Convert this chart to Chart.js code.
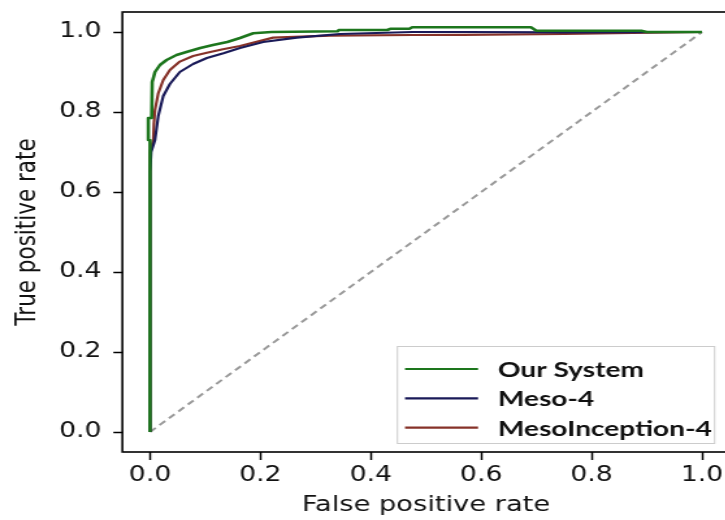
<!DOCTYPE html>
<html><head><meta charset="utf-8">
<script src="https://cdn.jsdelivr.net/npm/chart.js@4.4.0/dist/chart.umd.min.js"></script>
<style>
html,body{margin:0;padding:0;background:#fff;overflow:hidden;width:725px;height:520px;}
#wrap{position:absolute;left:0;top:0;width:570px;height:520px;transform:scaleX(1.3);transform-origin:0 0;}
</style></head><body>
<div id="wrap"><canvas id="c" width="570" height="520"></canvas></div>
<script>
// ---- data ----
const tickValues = [0, 0.2, 0.4, 0.6, 0.8, 1.0];
const tickLabels = ['0.0', '0.2', '0.4', '0.6', '0.8', '1.0'];
const seriesNames = ['Our System', 'Meso-4', 'MesoInception-4'];
const xAxisTitle = 'False positive rate';
const yAxisTitle = 'True positive rate';

const ourSystemFpr = [0, 0, -0.003, -0.003, 0.003, 0.004, 0.009, 0.018, 0.030, 0.048, 0.066, 0.091, 0.114, 0.14, 0.163, 0.187, 0.22, 0.34, 0.342, 0.43, 0.435, 0.47, 0.475, 0.69, 0.70, 0.89, 0.90, 1.0];
const ourSystemTpr = [0, 0.73, 0.73, 0.785, 0.785, 0.875, 0.90, 0.9175, 0.93, 0.9425, 0.95, 0.96, 0.9675, 0.975, 0.985, 0.997, 1.0, 1.002, 1.005, 1.005, 1.008, 1.008, 1.012, 1.012, 1.003, 1.003, 1.0, 1.0];

const meso4Fpr = [0, 0, 0.002, 0.009, 0.015, 0.024, 0.036, 0.054, 0.078, 0.103, 0.133, 0.163, 0.205, 0.266, 0.344, 0.476, 0.567, 0.75, 1.0];
const meso4Tpr = [0, 0.65, 0.70, 0.73, 0.79, 0.84, 0.87, 0.90, 0.92, 0.935, 0.947, 0.96, 0.975, 0.986, 0.995, 1.0, 1.0, 0.999, 1.0];

const mesoIncFpr = [0, 0, 0.006, 0.007, 0.009, 0.015, 0.024, 0.036, 0.054, 0.078, 0.103, 0.132, 0.163, 0.223, 0.326, 0.476, 0.567, 0.75, 1.0];
const mesoIncTpr = [0, 0.70, 0.73, 0.77, 0.805, 0.847, 0.88, 0.905, 0.926, 0.94, 0.948, 0.957, 0.965, 0.986, 0.991, 0.9925, 0.993, 0.995, 1.0];

const chanceFpr = [0, 1];
const chanceTpr = [0, 1];

// ---- helpers ----
const K = 1.3; // horizontal stretch of the figure
const toPts = (xs, ys) => xs.map((x, i) => ({ x: x, y: ys[i] }));
const seriesColors = ['#1d761d', '#1a1a58', '#863229'];

const frame = {
  id: 'frame',
  afterDatasetsDraw(chart) {
    const { ctx, chartArea: ca } = chart;
    ctx.save();
    ctx.strokeStyle = '#000';
    ctx.lineWidth = 1.6;
    ctx.strokeRect(ca.left, ca.top, ca.right - ca.left, ca.bottom - ca.top);
    ctx.restore();
  }
};

const boxLegend = {
  id: 'boxLegend',
  afterDraw(chart) {
    const { ctx, chartArea: ca } = chart;
    const bx = ca.right - 256, by = ca.bottom - 106, bw = 244, bh = 97;
    ctx.save();
    ctx.fillStyle = 'rgba(255,255,255,0.9)';
    ctx.fillRect(bx, by, bw, bh);
    ctx.strokeStyle = '#cccccc';
    ctx.lineWidth = 1;
    ctx.strokeRect(bx + 0.5, by + 0.5, bw, bh);
    ctx.font = 'bold 21.6px Lato, "Open Sans", sans-serif';
    ctx.textBaseline = 'middle';
    ctx.textAlign = 'left';
    chart.data.datasets.slice(0, seriesNames.length).forEach((ds, i) => {
      const y = by + 23 + i * 29.3;
      ctx.strokeStyle = ds.borderColor;
      ctx.lineWidth = 2.2;
      ctx.beginPath();
      ctx.moveTo(bx + 6.3, y);
      ctx.lineTo(bx + 62.5, y);
      ctx.stroke();
      ctx.fillStyle = '#111';
      ctx.fillText(ds.label, bx + 77.8, y + 1);
    });
    ctx.restore();
  }
};

const tickFont = { family: 'DejaVu Sans', size: 20.5 };

new Chart(document.getElementById('c'), {
  type: 'line',
  data: {
    datasets: [
      { label: seriesNames[0], data: toPts(ourSystemFpr, ourSystemTpr), borderColor: seriesColors[0], borderWidth: 2.6 },
      { label: seriesNames[1], data: toPts(meso4Fpr, meso4Tpr), borderColor: seriesColors[1], borderWidth: 2.2 },
      { label: seriesNames[2], data: toPts(mesoIncFpr, mesoIncTpr), borderColor: seriesColors[2], borderWidth: 2.2 },
      { label: 'chance', data: toPts(chanceFpr, chanceTpr), borderColor: '#999999', borderWidth: 2, borderDash: [6, 4] }
    ].map(d => Object.assign({ pointRadius: 0, tension: 0, fill: false, borderJoinStyle: 'round' }, d))
  },
  options: {
    responsive: false,
    animation: false,
    events: [],
    layout: { padding: { top: 12, right: 570 - 729.6 / K, bottom: 0, left: 0 } },
    plugins: { legend: { display: false }, tooltip: { enabled: false } },
    scales: {
      x: {
        type: 'linear', min: -0.05, max: 1.05,
        afterBuildTicks: s => { s.ticks = tickValues.map(v => ({ value: v })); },
        afterFit: s => { s.height = 68; s.paddingLeft = 0; s.paddingRight = 0; },
        ticks: { callback: (v, i) => tickLabels[i], font: tickFont, color: '#111', padding: 3, maxRotation: 0, autoSkip: false },
        grid: { display: true, drawOnChartArea: false, drawTicks: true, tickLength: 8, tickColor: '#000', tickWidth: 1.5 },
        border: { display: false },
        title: { display: true, text: xAxisTitle, font: { family: 'DejaVu Sans', size: 21 }, color: '#111', padding: { top: 0, bottom: 2 } }
      },
      y: {
        type: 'linear', min: -0.05, max: 1.05,
        afterBuildTicks: s => { s.ticks = tickValues.map(v => ({ value: v })); },
        afterFit: s => { s.width = 122.4 / K; s.paddingTop = 0; s.paddingBottom = 0; },
        ticks: { callback: (v, i) => tickLabels[i], font: tickFont, color: '#111', padding: 9, autoSkip: false },
        grid: { display: true, drawOnChartArea: false, drawTicks: true, tickLength: 7, tickColor: '#000', tickWidth: 1.5 },
        border: { display: false },
        title: { display: true, text: yAxisTitle, font: { family: 'DejaVu Sans', size: 21.5 }, color: '#111', padding: { top: 8.6, bottom: 0 } }
      }
    }
  },
  plugins: [frame, boxLegend]
});
</script>
</body></html>
